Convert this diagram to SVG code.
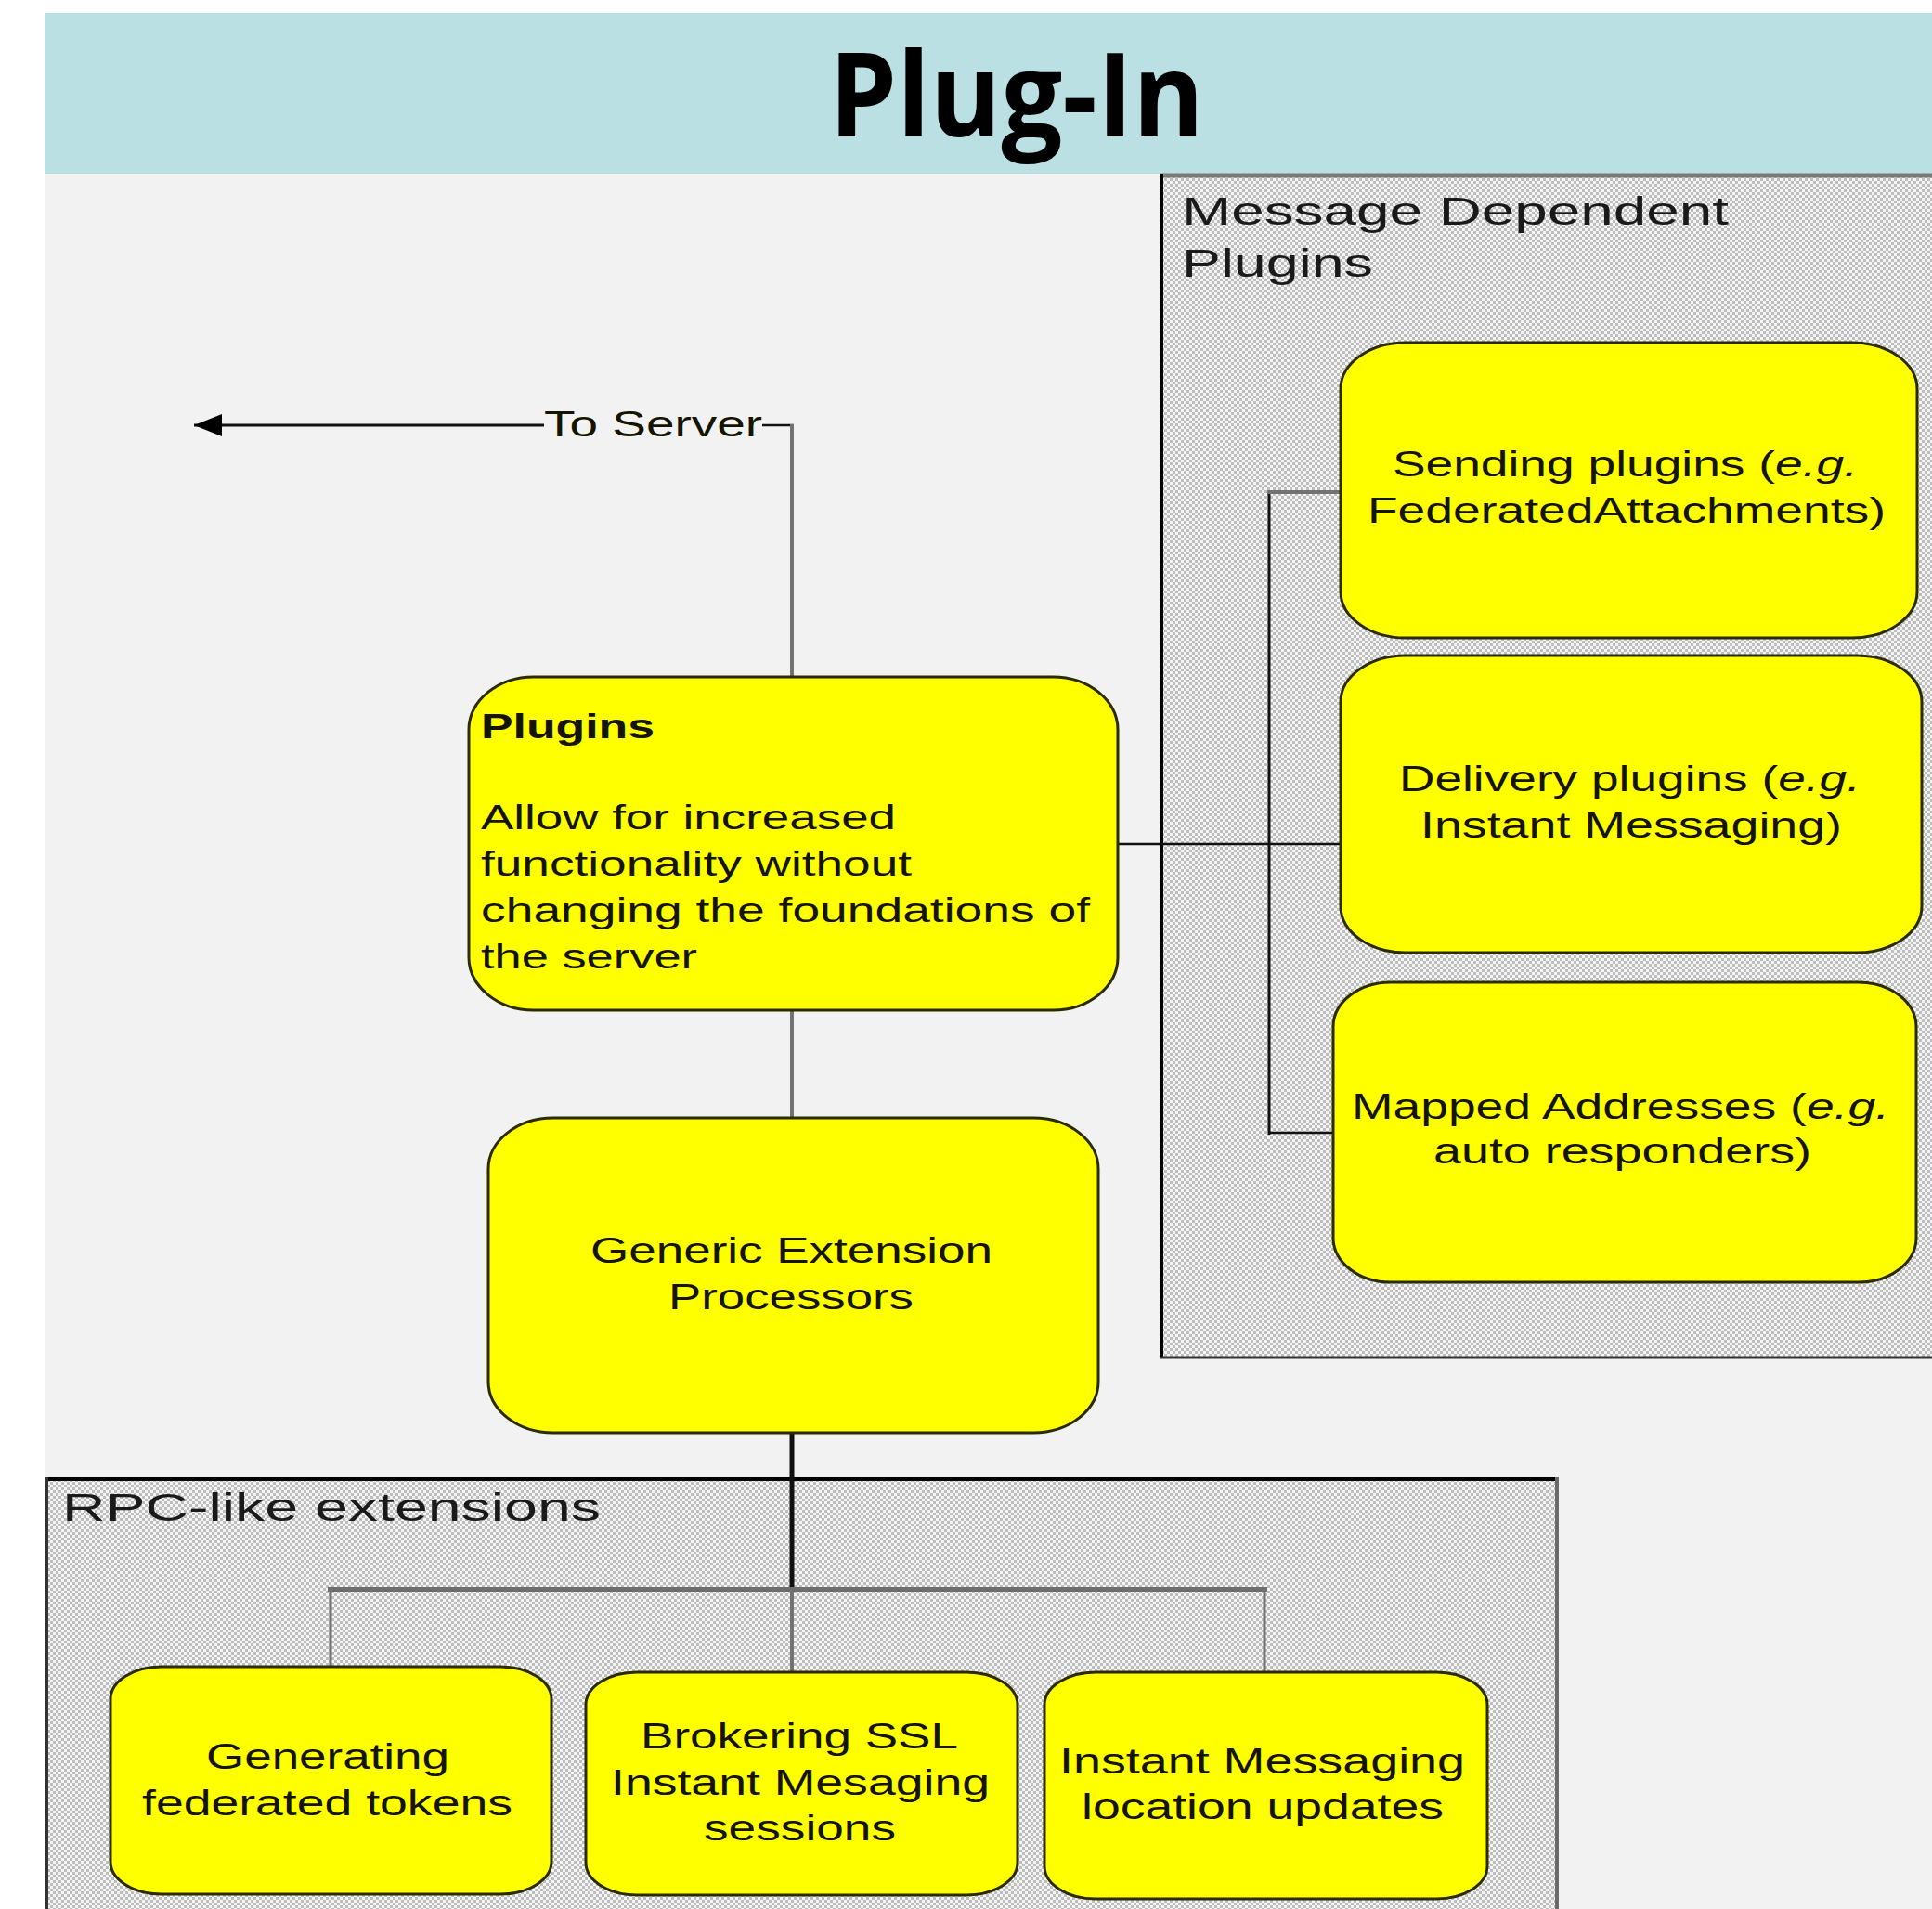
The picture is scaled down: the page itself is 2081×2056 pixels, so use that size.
<svg xmlns="http://www.w3.org/2000/svg" width="2081" height="2056" viewBox="0 0 2081 2056">
<style>
.node rect { fill: #ffff00; stroke: #2b2b00; stroke-width: 3; }
.t { font-family: "Liberation Sans", Arial, sans-serif; font-size: 38px; fill: #141400; }
.lbl { font-family: "Liberation Sans", Arial, sans-serif; font-size: 42px; fill: #1a1a1a; }
.title { font-family: "Open Sans", "Noto Sans", sans-serif; font-weight: 700; font-size: 126px; fill: #000; }
.gray { stroke: #727272; fill: none; }
.blk { stroke: #111; fill: none; }
</style>
<defs>
<pattern id="chk" patternUnits="userSpaceOnUse" width="6" height="6">
<rect width="6" height="6" fill="#f5f5f5"/>
<rect x="0" y="0" width="3" height="3" fill="#bdbdbd"/>
<rect x="3" y="3" width="3" height="3" fill="#bdbdbd"/>
</pattern>
<marker id="arr" markerUnits="userSpaceOnUse" markerWidth="34" markerHeight="28" refX="2" refY="14" orient="auto">
<polygon points="2,14 32,2 32,26" fill="#000"/>
</marker>
</defs>

<rect width="2081" height="2056" fill="#ffffff"/>
<rect x="48" y="187" width="2033" height="1869" fill="#f2f2f2"/>
<rect x="48" y="14" width="2033" height="173" fill="#bae0e3"/>
<text class="title" x="893" y="147" textLength="404" lengthAdjust="spacingAndGlyphs">Plug-In</text>

<g id="container-message-dependent">
<rect x="1250" y="189" width="831" height="1273" fill="url(#chk)"/>
<line x1="1250" y1="189" x2="2081" y2="189" stroke="#7a7a7a" stroke-width="5"/>
<line x1="1251" y1="187" x2="1251" y2="1463" stroke="#000" stroke-width="4"/>
<line x1="1250" y1="1462" x2="2081" y2="1462" stroke="#333" stroke-width="3"/>
<text class="lbl" x="1273" y="242" textLength="589" lengthAdjust="spacingAndGlyphs">Message Dependent</text>
<text class="lbl" x="1273" y="298" textLength="206" lengthAdjust="spacingAndGlyphs">Plugins</text>
</g>

<g id="container-rpc">
<rect x="50" y="1593" width="1627" height="463" fill="url(#chk)"/>
<line x1="48" y1="1593" x2="1677" y2="1593" stroke="#000" stroke-width="4"/>
<line x1="50" y1="1591" x2="50" y2="2056" stroke="#333" stroke-width="4"/>
<line x1="1677" y1="1591" x2="1677" y2="2056" stroke="#6a6a6a" stroke-width="4"/>
<text class="lbl" x="67" y="1638" textLength="580" lengthAdjust="spacingAndGlyphs">RPC-like extensions</text>
</g>

<g id="connectors">
<line class="blk" x1="209" y1="458" x2="586" y2="458" stroke-width="3" marker-start="url(#arr)"/>
<text class="t" x="586" y="470" textLength="235" lengthAdjust="spacingAndGlyphs" style="font-size:39px">To Server</text>
<line class="blk" x1="821" y1="458" x2="855" y2="458" stroke-width="2.5"/>
<line class="gray" x1="853" y1="457" x2="853" y2="729" stroke-width="4"/>
<line class="gray" x1="853" y1="1088" x2="853" y2="1204" stroke-width="4"/>
<line class="blk" x1="1204" y1="909" x2="1444" y2="909" stroke-width="2.5"/>
<line class="blk" x1="1367" y1="528" x2="1367" y2="1222" stroke-width="3"/>
<line class="gray" x1="1366" y1="530" x2="1444" y2="530" stroke-width="4"/>
<line class="blk" x1="1366" y1="1220" x2="1436" y2="1220" stroke-width="2.5"/>
<line class="blk" x1="853" y1="1543" x2="853" y2="1712" stroke-width="5"/>
<line x1="353" y1="1712" x2="1365" y2="1712" stroke="#6e6e6e" stroke-width="6"/>
<line class="gray" x1="853" y1="1712" x2="853" y2="1802" stroke-width="4"/>
<line class="gray" x1="356" y1="1712" x2="356" y2="1795" stroke-width="3"/>
<line class="gray" x1="1362" y1="1712" x2="1362" y2="1802" stroke-width="3"/>
</g>

<g id="node-plugins" class="node">
<rect x="505" y="729" width="699" height="359" rx="70" ry="57"/>
<text class="t" x="518" y="795" textLength="187" lengthAdjust="spacingAndGlyphs" style="font-weight:700;font-size:37px">Plugins</text>
<text class="t" x="518" y="893" textLength="447" lengthAdjust="spacingAndGlyphs" style="font-size:37px">Allow for increased</text>
<text class="t" x="518" y="943" textLength="464" lengthAdjust="spacingAndGlyphs" style="font-size:37px">functionality without</text>
<text class="t" x="518" y="993" textLength="656" lengthAdjust="spacingAndGlyphs" style="font-size:37px">changing the foundations of</text>
<text class="t" x="518" y="1043" textLength="233" lengthAdjust="spacingAndGlyphs" style="font-size:37px">the server</text>
</g>

<g id="node-generic" class="node">
<rect x="526" y="1204" width="657" height="339" rx="70" ry="55"/>
<text class="t" x="636" y="1360" textLength="433" lengthAdjust="spacingAndGlyphs">Generic Extension</text>
<text class="t" x="720" y="1410" textLength="264" lengthAdjust="spacingAndGlyphs">Processors</text>
</g>

<g id="node-sending" class="node">
<rect x="1444" y="369" width="621" height="318" rx="70" ry="50"/>
<text class="t" x="1500" y="513" textLength="501" lengthAdjust="spacingAndGlyphs">Sending plugins (<tspan font-style="italic">e.g.</tspan></text>
<text class="t" x="1473" y="563" textLength="558" lengthAdjust="spacingAndGlyphs">FederatedAttachments)</text>
</g>

<g id="node-delivery" class="node">
<rect x="1444" y="706" width="626" height="320" rx="70" ry="50"/>
<text class="t" x="1507" y="852" textLength="497" lengthAdjust="spacingAndGlyphs">Delivery plugins (<tspan font-style="italic">e.g.</tspan></text>
<text class="t" x="1530" y="902" textLength="454" lengthAdjust="spacingAndGlyphs">Instant Messaging)</text>
</g>

<g id="node-mapped" class="node">
<rect x="1436" y="1058" width="628" height="323" rx="62" ry="48"/>
<text class="t" x="1456" y="1205" textLength="579" lengthAdjust="spacingAndGlyphs">Mapped Addresses (<tspan font-style="italic">e.g.</tspan></text>
<text class="t" x="1544" y="1253" textLength="407" lengthAdjust="spacingAndGlyphs">auto responders)</text>
</g>

<g id="node-generating" class="node">
<rect x="119" y="1795" width="475" height="245" rx="55" ry="35"/>
<text class="t" x="222" y="1905" textLength="262" lengthAdjust="spacingAndGlyphs">Generating</text>
<text class="t" x="153" y="1955" textLength="399" lengthAdjust="spacingAndGlyphs">federated tokens</text>
</g>

<g id="node-brokering" class="node">
<rect x="631" y="1801" width="465" height="240" rx="55" ry="35"/>
<text class="t" x="690" y="1883" textLength="342" lengthAdjust="spacingAndGlyphs">Brokering SSL</text>
<text class="t" x="658" y="1933" textLength="408" lengthAdjust="spacingAndGlyphs">Instant Mesaging</text>
<text class="t" x="758" y="1982" textLength="207" lengthAdjust="spacingAndGlyphs">sessions</text>
</g>

<g id="node-im-location" class="node">
<rect x="1125" y="1801" width="477" height="244" rx="55" ry="35"/>
<text class="t" x="1141" y="1910" textLength="437" lengthAdjust="spacingAndGlyphs">Instant Messaging</text>
<text class="t" x="1165" y="1959" textLength="390" lengthAdjust="spacingAndGlyphs">location updates</text>
</g>
</svg>
